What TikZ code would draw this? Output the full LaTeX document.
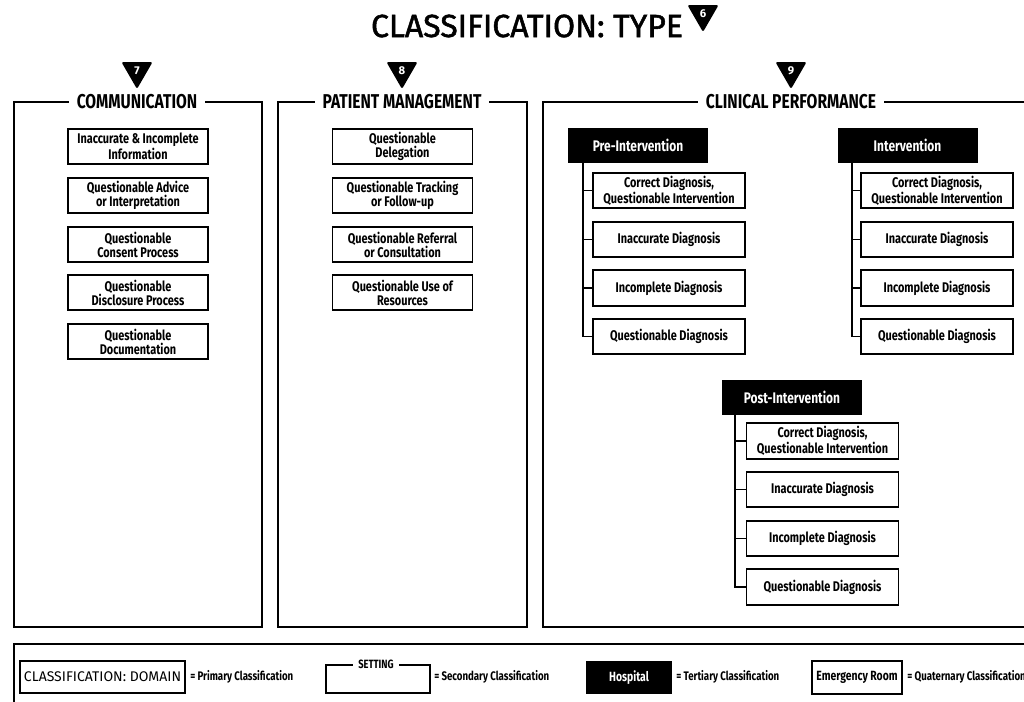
\documentclass[tikz,border=0pt]{standalone}
\usepackage{fontspec}
\setmainfont{Fira Sans}
\newfontfamily\cond[FakeStretch=0.78]{Fira Sans}
\newfontfamily\titlefont[FakeBold=1.6]{Fira Sans}
\usetikzlibrary{shapes.geometric}
\begin{document}
\begin{tikzpicture}[x=0.75pt,y=-0.75pt]
\tikzset{
  panelframe/.style={draw, line width=1.1pt},
  headlabel/.style={fill=white, inner xsep=6pt, inner ysep=1pt,
    font=\cond\bfseries\fontsize{15}{16}\selectfont},
  itembox/.style={draw, line width=1.3pt, minimum width=105pt, minimum height=26.5pt,
    inner sep=1pt, align=center, font=\cond\bfseries\fontsize{10.5}{10.5}\selectfont},
  subbox/.style={itembox, minimum width=114pt},
  phasebox/.style={fill=black, text=white, minimum width=105pt, minimum height=26.5pt,
    inner sep=1pt, font=\cond\bfseries\fontsize{11.5}{12}\selectfont},
  numtag/.style={regular polygon, regular polygon sides=3, shape border rotate=180,
    fill=black, text=white, minimum size=27pt, inner sep=0pt, rounded corners=1.5pt,
    font=\bfseries\fontsize{8.5}{8.5}\selectfont},
  treeline/.style={line width=1.1pt},
  legendnote/.style={anchor=west, inner sep=0pt, font=\cond\bfseries\fontsize{9.3}{10}\selectfont}
}
\clip (0,0) rectangle (1024,701);

% title
\node[font=\titlefont\fontsize{24}{26}\selectfont, inner sep=0pt] (title) at (527,26) {CLASSIFICATION: TYPE};
\node[numtag] (tag6) at (703,14) {6};

% panels
\draw[panelframe] (14,102) rectangle (262,627);
\draw[panelframe] (278,102) rectangle (527,627);
\draw[panelframe] (543,102) rectangle (1040,627);
\node[headlabel] (hcomm) at (137,102) {COMMUNICATION};
\node[headlabel] (hpat) at (402,102) {PATIENT MANAGEMENT};
\node[headlabel] (hclin) at (791,102) {CLINICAL PERFORMANCE};
\node[numtag] (tag7) at (137,71) {7};
\node[numtag] (tag8) at (402,71) {8};
\node[numtag] (tag9) at (791,71) {9};

% communication
\node[itembox] (c1) at (138,146.5) {Inaccurate \& Incomplete\\Information};
\node[itembox] (c2) at (138,195.5) {Questionable Advice\\or Interpretation};
\node[itembox] (c3) at (138,244.5) {Questionable\\Consent Process};
\node[itembox] (c4) at (138,292.5) {Questionable\\Disclosure Process};
\node[itembox] (c5) at (138,341.5) {Questionable\\Documentation};

% patient management
\node[itembox] (m1) at (402.5,146.5) {Questionable\\Delegation};
\node[itembox] (m2) at (402.5,195.5) {Questionable Tracking\\or Follow-up};
\node[itembox] (m3) at (402.5,244.5) {Questionable Referral\\or Consultation};
\node[itembox] (m4) at (402.5,292.5) {Questionable Use of\\Resources};

% clinical performance: pre-intervention
\node[phasebox] (pre) at (638,145.5) {Pre-Intervention};
\node[subbox] (pc1) at (669,190.5) {Correct Diagnosis,\\Questionable Intervention};
\node[subbox] (pc2) at (669,239.5) {Inaccurate Diagnosis};
\node[subbox] (pc3) at (669,288) {Incomplete Diagnosis};
\node[subbox] (pc4) at (669,336.5) {Questionable Diagnosis};
\coordinate (preT) at (583,163);
\draw[treeline] (preT) |- (pc4.west);
\foreach \i in {1,2,3} \draw[treeline] (preT |- pc\i.west) -- (pc\i.west);

% clinical performance: intervention
\node[phasebox] (int) at (907.5,145.5) {Intervention};
\node[subbox] (ic1) at (937,190.5) {Correct Diagnosis,\\Questionable Intervention};
\node[subbox] (ic2) at (937,239.5) {Inaccurate Diagnosis};
\node[subbox] (ic3) at (937,288) {Incomplete Diagnosis};
\node[subbox] (ic4) at (937,336.5) {Questionable Diagnosis};
\coordinate (intT) at (852,163);
\draw[treeline] (intT) |- (ic4.west);
\foreach \i in {1,2,3} \draw[treeline] (intT |- ic\i.west) -- (ic\i.west);

% clinical performance: post-intervention
\node[phasebox] (post) at (792,397.5) {Post-Intervention};
\node[subbox] (qc1) at (822.5,441) {Correct Diagnosis,\\Questionable Intervention};
\node[subbox] (qc2) at (822.5,489.5) {Inaccurate Diagnosis};
\node[subbox] (qc3) at (822.5,538.5) {Incomplete Diagnosis};
\node[subbox] (qc4) at (822.5,587) {Questionable Diagnosis};
\coordinate (postT) at (735,414);
\draw[treeline] (postT) |- (qc4.west);
\foreach \i in {1,2,3} \draw[treeline] (postT |- qc\i.west) -- (qc\i.west);

% legend
\draw[panelframe] (14,644) rectangle (1040,720);
\node[draw, line width=1.2pt, minimum width=123.75pt, minimum height=24pt, inner sep=1pt,
  font=\fontsize{10.5}{11}\selectfont] (kdomain) at (102.5,677) {CLASSIFICATION: DOMAIN};
\node[legendnote] (kn1) at (190,677) {= Primary Classification};
\node[draw, line width=1.1pt, minimum width=78pt, minimum height=21pt] (ksetting) at (378,679) {};
\node[fill=white, inner xsep=4pt, inner ysep=1pt, font=\cond\bfseries\fontsize{9}{10}\selectfont] (ksetlabel) at (376,664) {SETTING};
\node[legendnote] (kn2) at (434,677) {= Secondary Classification};
\node[fill=black, text=white, minimum width=64.5pt, minimum height=24.75pt, inner sep=1pt,
  font=\cond\bfseries\fontsize{10}{10}\selectfont] (khosp) at (629,677.5) {Hospital};
\node[legendnote] (kn3) at (676,677) {= Tertiary Classification};
\node[draw, line width=1.2pt, minimum width=67.5pt, minimum height=24.75pt, inner sep=1pt,
  font=\cond\bfseries\fontsize{10}{10}\selectfont] (ker) at (857,677.5) {Emergency Room};
\node[legendnote] (kn4) at (907,677) {= Quaternary Classification};
\end{tikzpicture}
\end{document}
